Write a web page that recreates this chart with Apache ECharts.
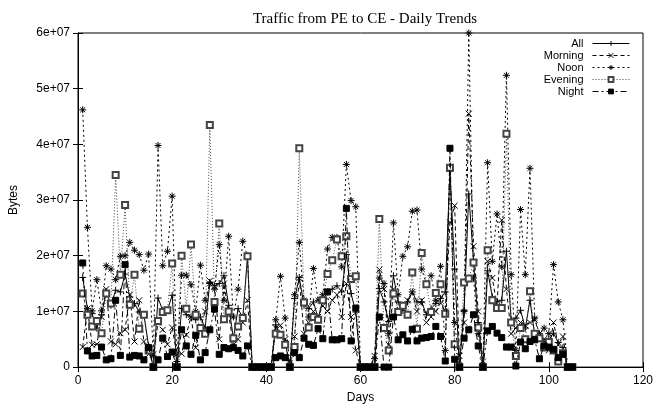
<!DOCTYPE html>
<html>
<head>
<meta charset="utf-8">
<script src="https://cdn.jsdelivr.net/npm/echarts@6/dist/echarts.min.js"></script>
<style>
  html, body { margin: 0; padding: 0; background: #fff; }
  #main { width: 656px; height: 409px; }
</style>
</head>
<body>
<div id="main"></div>
<script>
// values are in millions of bytes (10 = 1e+07)
const days = [1,2,3,4,5,6,7,8,9,10,11,12,13,14,15,16,17,18,19,20,21,22,23,24,25,26,27,28,29,30,
  31,32,33,34,35,36,37,38,39,40,41,42,43,44,45,46,47,48,49,50,51,52,53,54,55,56,57,58,59,60,
  61,62,63,64,65,66,67,68,69,70,71,72,73,74,75,76,77,78,79,80,81,82,83,84,85,86,87,88,89,90,
  91,92,93,94,95,96,97,98,99,100,101,102,103,104,105];

const allTraffic = [16.1,10.5,9.6,7.0,9.4,13.5,11.1,13.8,13.5,16.7,12.6,11.4,9.9,9.4,3.8,0,12.4,10.2,10.2,12.9,
  0,10.5,9.4,9.0,8.5,9.0,7.0,15.2,14.6,15.0,16.4,11.1,5.2,10.5,8.8,19.9,0,0,0,0,
  0,7.6,5.8,4.6,0,12.3,16.1,11.1,10.5,11.7,8.8,12.0,13.5,14.0,14.6,13.5,20.2,13.2,9.9,0,
  0,0,0,14.1,11.7,8.2,16.4,11.7,10.2,11.7,13.5,11.7,11.7,9.4,10.5,11.4,12.3,13.5,35.2,17.6,
  0,10.2,31.1,19.1,8.0,0,17.3,12.6,11.7,12.0,20.8,8.5,8.8,10.2,7.0,12.0,5.8,5.2,4.6,4.9,
  6.1,4.4,3.5,0,0];

const morning = [3.6,10.5,4.0,4.1,9.0,14.0,4.6,4.1,6.1,6.7,13.0,4.6,12.0,4.6,2.3,2.3,8.0,6.7,4.1,7.1,
  2.3,2.4,5.8,9.0,3.5,7.0,10.0,15.5,14.5,5.0,15.0,9.5,4.0,5.0,8.0,12.0,0,0,0,0,
  0,7.0,7.5,5.0,0,5.5,16.0,6.0,8.0,10.0,9.0,11.0,10.0,12.0,13.0,9.0,15.0,9.0,3.0,0,
  0,0,2.0,17.5,14.0,4.0,14.0,10.0,11.0,12.0,13.5,10.0,12.0,8.0,9.0,10.0,11.5,10.0,26.0,29.0,
  2.0,8.0,45.5,21.7,10.0,1.0,19.0,16.0,11.0,26.4,14.0,6.0,7.0,8.0,7.5,8.0,8.5,6.0,5.0,3.0,
  8.0,4.0,5.5,0,0];

const noon = [46.2,25.1,10.1,15.7,10.1,18.2,17.6,15.7,19.9,20.0,22.4,21.0,20.2,17.4,20.3,2.0,39.8,18.2,20.8,30.7,
  1.0,16.5,16.5,14.8,10.0,18.3,12.0,15.0,14.0,22.0,12.0,23.5,9.0,14.0,22.6,19.9,0,0,0,0,
  0,8.5,16.3,8.8,0.5,13.0,22.4,12.0,9.0,17.7,12.0,13.0,21.2,23.3,23.3,18.0,36.4,29.9,28.8,0,
  0,0,1.5,16.0,15.0,6.0,25.9,13.0,19.9,21.6,28.0,28.2,17.6,14.9,16.4,12.0,18.1,3.0,36.0,8.0,
  0.5,10.0,60.0,16.0,6.0,0.5,36.7,19.0,27.5,18.0,52.4,16.6,3.0,28.3,16.6,35.7,8.8,6.0,7.0,6.0,
  18.4,11.7,8.5,0,0];

const evening = [13.2,9.4,7.3,8.3,6.1,13.2,11.4,34.5,16.6,29.1,11.2,16.6,6.9,9.4,3.0,0,8.3,9.9,10.2,18.6,
  0,20.0,10.5,22.0,9.4,7.0,6.0,43.5,11.7,25.8,8.6,10.0,5.2,7.3,8.8,19.9,0,0,0,0,
  0,6.0,5.8,4.0,0,3.6,39.3,11.6,7.1,9.0,8.5,12.0,16.7,19.2,22.9,19.9,23.5,15.8,16.3,0,
  0,0,0,26.6,7.0,3.0,13.2,9.9,11.0,9.4,17.0,6.9,20.5,14.9,9.9,13.3,14.9,9.6,35.8,4.1,
  0,15.2,15.9,18.8,7.1,0,21.0,12.0,10.6,10.6,41.9,8.0,2.0,7.0,5.0,13.6,6.0,5.2,3.5,4.5,
  3.0,1.0,2.5,0,0];

const night = [18.7,2.9,2.0,2.1,3.6,1.3,1.5,12.0,2.1,18.4,1.8,2.1,2.0,1.3,3.5,0,1.3,5.2,1.9,2.7,
  0,6.7,3.8,2.3,5.7,1.3,2.6,6.7,10.4,2.3,3.5,3.3,3.5,3.0,2.0,3.8,0,0,0,0,
  0,1.7,2.0,1.7,0,2.6,1.7,5.2,4.1,3.9,6.9,5.1,13.5,4.9,4.9,5.1,28.5,4.7,10.6,0,
  0,0,0,9.0,0,0,9.0,4.9,5.8,4.7,6.8,4.7,5.2,5.3,5.5,7.3,5.5,1.1,39.3,1.4,
  0,5.2,6.7,9.4,3.8,0,6.5,7.3,6.1,5.3,3.6,3.6,0.2,4.5,3.3,4.6,4.9,1.5,3.8,3.6,
  3.2,1.7,2.3,0,0];

const xTicks = { min: 0, max: 120, interval: 20 };
const yTicks = { min: 0, max: 60, interval: 10 };

// gnuplot point types
const plusPath = 'path://M0,5L10,5M5,0L5,10';
const crossPath = 'path://M1,1L9,9M9,1L1,9';
const starPath = 'path://M0,5L10,5M5,0L5,10M1.5,1.5L8.5,8.5M8.5,1.5L1.5,8.5';

const font = '"Liberation Sans", Arial, sans-serif';

const seriesDefs = [
  { name: 'All', data: allTraffic, symbol: plusPath, size: 7, line: 'solid', color: '#000' },
  { name: 'Morning', data: morning, symbol: crossPath, size: 6, line: [4, 3], color: '#000' },
  { name: 'Noon', data: noon, symbol: starPath, size: 7, line: [2, 3], color: '#000' },
  { name: 'Evening', data: evening, symbol: 'emptyRect', size: 6, line: [1, 2], color: '#444' },
  { name: 'Night', data: night, symbol: 'rect', size: 6, line: [6, 3, 2, 3], color: '#000' }
];

const legendTops = [38, 50, 62, 74, 86];

const chart = echarts.init(document.getElementById('main'));

const option = {
  animation: false,
  backgroundColor: '#fff',
  title: {
    text: 'Traffic from PE to CE - Daily Trends',
    left: 360,
    top: 7,
    textAlign: 'center',
    textStyle: { fontFamily: '"Liberation Serif", "Times New Roman", serif', fontSize: 15, fontWeight: 'normal', color: '#000' }
  },
  // one legend per entry so the samples line up on the right like gnuplot's key
  legend: seriesDefs.map((s, i) => ({
    data: [s.name],
    right: 26,
    top: legendTops[i],
    align: 'right',
    padding: 0,
    itemWidth: 37,
    itemHeight: 6,
    lineStyle: { width: 1 },
    itemStyle: { borderWidth: 1 },
    textStyle: { fontFamily: font, fontSize: 11, color: '#000', padding: [0, 4, 0, 0] },
    selectedMode: false
  })),
  grid: {
    left: 75, right: 11, top: 33, bottom: 36,
    show: true, borderColor: '#000', borderWidth: 1
  },
  xAxis: [{
    type: 'value',
    ...xTicks,
    name: 'Days',
    nameLocation: 'middle',
    nameGap: 23,
    nameTextStyle: { fontFamily: font, fontSize: 12, color: '#000' },
    axisLine: { lineStyle: { color: '#000' } },
    axisTick: { inside: true, length: 5, lineStyle: { color: '#000' } },
    axisLabel: { fontFamily: font, fontSize: 12, color: '#000', margin: 8 },
    splitLine: { show: false }
  }, {
    type: 'value',
    position: 'top',
    ...xTicks,
    axisLine: { lineStyle: { color: '#000' } },
    axisTick: { inside: true, length: 5, lineStyle: { color: '#000' } },
    axisLabel: { show: false },
    splitLine: { show: false }
  }],
  yAxis: [{
    type: 'value',
    ...yTicks,
    name: 'Bytes',
    nameLocation: 'middle',
    nameGap: 58,
    nameTextStyle: { fontFamily: font, fontSize: 12, color: '#000' },
    axisLine: { show: true, lineStyle: { color: '#000' } },
    axisTick: { show: true, inside: true, length: 5, lineStyle: { color: '#000' } },
    axisLabel: {
      fontFamily: font, fontSize: 12, color: '#000', margin: 8,
      formatter: v => v === 0 ? '0' : (v / 10) + 'e+07'
    },
    splitLine: { show: false }
  }, {
    type: 'value',
    position: 'right',
    ...yTicks,
    axisLine: { show: true, lineStyle: { color: '#000' } },
    axisTick: { show: true, inside: true, length: 5, lineStyle: { color: '#000' } },
    axisLabel: { show: false },
    splitLine: { show: false }
  }],
  series: seriesDefs.map((s, i) => ({
    name: s.name,
    type: 'line',
    xAxisIndex: 0,
    yAxisIndex: 0,
    data: s.data.map((v, k) => [days[k], v]),
    symbol: s.symbol,
    symbolSize: s.size,
    showAllSymbol: true,
    z: 2 + i,
    lineStyle: { color: s.color, width: 1, type: s.line },
    itemStyle: { color: s.color, borderColor: s.color, borderWidth: 1 },
    emphasis: { disabled: true }
  }))
};

chart.setOption(option);
</script>
</body>
</html>
